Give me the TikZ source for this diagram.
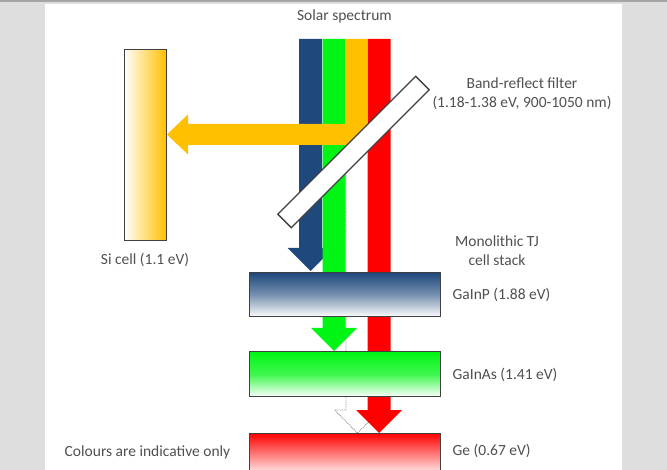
\documentclass[tikz,border=0pt]{standalone}
\usepackage{fontspec}
\setmainfont{Carlito}
\usetikzlibrary{positioning}
\definecolor{sunblue}{RGB}{31,73,125}
\definecolor{sungreen}{RGB}{0,245,20}
\definecolor{sunorange}{RGB}{255,192,0}
\definecolor{sunred}{RGB}{255,0,0}
\definecolor{txtgray}{RGB}{80,80,80}
\definecolor{edgegray}{RGB}{64,64,64}
\definecolor{panelgray}{RGB}{222,222,222}
% down arrow: style, centre x, top y, tip y
\newcommand{\bandarrow}[4]{\path[#1] (#2-11.5,#3) -- (#2+11.5,#3) -- (#2+11.5,#4-23) -- (#2+23,#4-23) -- (#2,#4) -- (#2-23,#4-23) -- (#2-11.5,#4-23) -- cycle;}
\begin{document}
\begin{tikzpicture}[x=1pt, y=-1pt, line join=miter,
  lbl/.style={text=txtgray, font=\fontsize{15.5}{19}\selectfont, inner sep=2pt},
  cellbox/.style={draw=edgegray, line width=1pt, minimum width=191pt, minimum height=44pt, inner sep=0pt},
  whitearrow/.style={fill=white, draw=gray, densely dotted, line width=.8pt}]
 \useasboundingbox (0,0) rectangle (667,470);
 \fill[panelgray] (0,0) rectangle (667,470);
 \fill[white] (45,4) rectangle (622,470);
 \draw[gray!70, line width=2pt] (0,1.5) -- (667,1.5);
 \bandarrow{whitearrow}{357.5}{150}{433}
 \bandarrow{fill=sunblue}{310.5}{39}{271}
 \bandarrow{fill=sungreen}{334}{39}{351}
 \bandarrow{fill=sunred}{379}{39}{433}
 \fill[sunorange] (345.5,39) -- (367.5,39) -- (367.5,140) -- (362,145) -- (188,145) -- (188,154.5) -- (167,134.5) -- (188,114.5) -- (188,124) -- (345.5,124) -- cycle;
 \node[draw=edgegray, fill=white, line width=1.3pt, minimum width=195pt, minimum height=19pt, inner sep=0pt, rotate=45] (filter) at (353.5,152) {};
 \node[cellbox, left color=white, right color=sunorange, middle color=sunorange!50, minimum width=42pt, minimum height=191pt] (si) at (145,145.5) {};
 \node[cellbox, top color=sunblue, bottom color=white, middle color=sunblue!60] (gainp) at (344.5,295) {};
 \node[cellbox, top color=sungreen, bottom color=white, middle color=sungreen!75, minimum height=45pt] (gainas) at (344.5,374.5) {};
 \node[cellbox, top color=sunred, bottom color=white, middle color=sunred!50] (ge) at (344.5,455) {};
 \node[lbl] (solar) at (344.5,16) {Solar spectrum};
 \node[lbl, align=center] (filterlbl) at (522,93.5) {Band-reflect filter\\(1.18-1.38 eV, 900-1050 nm)};
 \node[lbl, align=center] (stacklbl) at (497,251) {Monolithic TJ\\cell stack};
 \node[lbl, below=9pt of si] (silbl) {Si cell (1.1 eV)};
 \node[lbl, right=10pt of gainp] (gainplbl) {GaInP (1.88 eV)};
 \node[lbl, right=10pt of gainas] (gainaslbl) {GaInAs (1.41 eV)};
 \node[lbl, anchor=west] (gelbl) at ([xshift=10pt, yshift=-18pt]ge.north east) {Ge (0.67 eV)};
 \node[lbl] (notelbl) at (147.5,452) {Colours are indicative only};
\end{tikzpicture}
\end{document}
